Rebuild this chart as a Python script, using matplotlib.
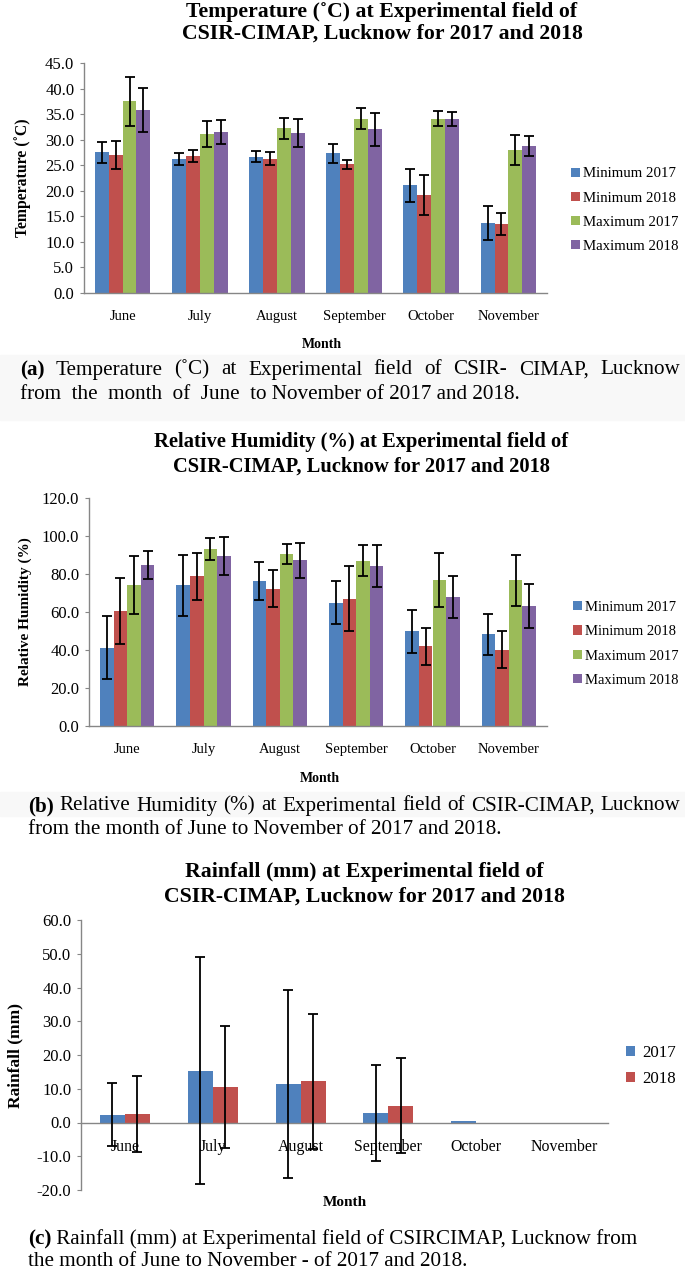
import matplotlib.pyplot as plt
import numpy as np
from matplotlib.patches import Rectangle

W, H = 685, 1277
SERIF = ["Liberation Serif", "DejaVu Serif"]
AXIS_GRAY = "#868686"

MONTHS = ["June", "July", "August", "September", "October", "November"]

# temperature (deg C), mean and sd
TEMP_LABELS = ["Minimum 2017", "Minimum 2018", "Maximum 2017", "Maximum 2018"]
TEMP_MIN_2017 = [27.5, 26.2, 26.7, 27.3, 21.1, 13.7]
TEMP_MIN_2018 = [27.0, 26.8, 26.3, 25.2, 19.1, 13.5]
TEMP_MAX_2017 = [37.5, 31.1, 32.2, 34.1, 34.1, 28.0]
TEMP_MAX_2018 = [35.8, 31.5, 31.3, 32.0, 34.1, 28.8]
TEMP_MIN_2017_SD = [2.1, 1.2, 1.1, 1.8, 3.2, 3.3]
TEMP_MIN_2018_SD = [2.7, 1.2, 1.2, 0.9, 3.9, 2.1]
TEMP_MAX_2017_SD = [4.8, 2.6, 2.0, 2.1, 1.5, 2.9]
TEMP_MAX_2018_SD = [4.3, 2.4, 2.7, 3.3, 1.4, 1.9]

# relative humidity (%)
RH_LABELS = ["Minimum 2017", "Minimum 2018", "Maximum 2017", "Maximum 2018"]
RH_MIN_2017 = [41.2, 74.1, 76.2, 64.8, 49.8, 48.4]
RH_MIN_2018 = [60.4, 78.7, 72.2, 67.1, 41.9, 40.1]
RH_MAX_2017 = [74.1, 93.4, 90.6, 86.9, 76.9, 76.6]
RH_MAX_2018 = [84.8, 89.5, 87.2, 84.3, 68.1, 63.2]
RH_MIN_2017_SD = [16.5, 16.0, 9.9, 11.3, 11.3, 10.8]
RH_MIN_2018_SD = [17.3, 12.4, 9.7, 17.0, 9.8, 9.7]
RH_MAX_2017_SD = [15.2, 5.8, 5.2, 8.2, 14.4, 13.6]
RH_MAX_2018_SD = [7.2, 10.2, 9.3, 11.0, 11.0, 11.4]

# rainfall (mm)
RAIN_LABELS = ["2017", "2018"]
RAIN_2017 = [2.3, 15.4, 11.5, 2.9, 0.3, 0.0]
RAIN_2018 = [2.5, 10.6, 12.2, 5.0, 0.0, 0.0]
RAIN_2017_SD = [9.3, 33.5, 27.8, 14.2, 0.0, 0.0]
RAIN_2018_SD = [11.3, 18.1, 20.0, 14.1, 0.0, 0.0]

COLORS = ["#4F81BD", "#C0504D", "#9BBB59", "#8064A2"]


def px_axes(fig, left, top, right, bottom):
    return fig.add_axes([left / W, 1 - bottom / H, (right - left) / W, (bottom - top) / H])


def fy(y):
    return 1 - y / H


def style_axes(ax, xsize=10.5, ysize=12):
    for side in ["top", "right"]:
        ax.spines[side].set_visible(False)
    for side in ["left", "bottom"]:
        ax.spines[side].set_color(AXIS_GRAY)
        ax.spines[side].set_linewidth(1.0)
    ax.tick_params(axis="y", length=3, width=0.8, color=AXIS_GRAY, pad=4, labelsize=ysize)
    ax.tick_params(axis="x", length=0, pad=12, labelsize=xsize)
    for lab in ax.get_xticklabels() + ax.get_yticklabels():
        lab.set_family(SERIF)


def grouped_bars(ax, series, errors, labels, width):
    x = np.arange(len(MONTHS))
    n = len(series)
    for i, (vals, errs, lab) in enumerate(zip(series, errors, labels)):
        pos = x + (i - (n - 1) / 2) * width
        ax.bar(pos, vals, width, color=COLORS[i], label=lab, zorder=2)
        errs = np.array(errs)
        mask = errs > 0
        ax.errorbar(pos[mask], np.array(vals)[mask], yerr=errs[mask], fmt="none",
                    ecolor="black", elinewidth=1.3, capsize=3.5, capthick=1.3, zorder=3)
    ax.set_xticks(x)
    ax.set_xticklabels(MONTHS)
    ax.set_xlim(-0.5, len(MONTHS) - 0.5)


def justified(fig, words, x0, x1, y, size, bold_first=True):
    renderer = fig.canvas.get_renderer()
    texts = []
    for i, w in enumerate(words):
        t = fig.text(0, fy(y), w, fontsize=size, family=SERIF, va="center",
                     fontweight="bold" if (i == 0 and bold_first) else "normal")
        texts.append(t)
    widths = [t.get_window_extent(renderer).width for t in texts]
    gap = (x1 - x0 - sum(widths)) / (len(words) - 1)
    x = x0
    for t, w in zip(texts, widths):
        t.set_x(x / W)
        x += w + gap


def caption(fig, label, text, x, y, size):
    renderer = fig.canvas.get_renderer()
    t = fig.text(x / W, fy(y), label, fontsize=size, family=SERIF, fontweight="bold", va="center")
    w = t.get_window_extent(renderer).width
    fig.text((x + w) / W, fy(y), text, fontsize=size, family=SERIF, va="center")


def title(fig, lines, cx, ys, size):
    for line, y in zip(lines, ys):
        fig.text(cx / W, fy(y), line, ha="center", va="center",
                 family=SERIF, fontweight="bold", fontsize=size)


fig = plt.figure(figsize=(W / 100, H / 100), dpi=100)
fig.canvas.draw()
CAP = 15.2

# (a) temperature
ax1 = px_axes(fig, 84, 63, 547, 293)
grouped_bars(ax1, [TEMP_MIN_2017, TEMP_MIN_2018, TEMP_MAX_2017, TEMP_MAX_2018],
             [TEMP_MIN_2017_SD, TEMP_MIN_2018_SD, TEMP_MAX_2017_SD, TEMP_MAX_2018_SD],
             TEMP_LABELS, 0.18)
ax1.set_ylim(0, 45)
ax1.set_yticks(np.arange(0, 45.1, 5))
ax1.set_yticklabels([f"{v:.1f}" for v in np.arange(0, 45.1, 5)])
style_axes(ax1)
ax1.set_ylabel("Temperature (˚C)", family=SERIF, fontweight="bold", fontsize=11.3)
ax1.yaxis.set_label_coords(-0.115, 0.5)
ax1.legend(loc="center left", bbox_to_anchor=(1.04, 0.36), frameon=False,
           prop={"family": SERIF, "size": 10.7}, handlelength=0.6, handleheight=0.6,
           handletextpad=0.2, labelspacing=0.75, borderaxespad=0)
title(fig, ["Temperature (˚C) at Experimental field of", "CSIR-CIMAP, Lucknow for 2017 and 2018"],
      382, [12, 34], 15.7)
fig.text(322 / W, fy(345), "Month", ha="center", va="center", family=SERIF, fontweight="bold", fontsize=10)

fig.patches.append(Rectangle((0, fy(420)), 1, (420 - 355) / H, transform=fig.transFigure,
                             color="#f8f8f8", zorder=0))
justified(fig, "(a) Temperature (˚C) at Experimental field of CSIR- CIMAP, Lucknow".split(),
          20, 680, 370, CAP)
fig.text(20 / W, fy(394), "from  the  month  of  June  to November of 2017 and 2018.",
         family=SERIF, fontsize=CAP, va="center")

# (b) relative humidity
ax2 = px_axes(fig, 89, 498, 547, 726)
grouped_bars(ax2, [RH_MIN_2017, RH_MIN_2018, RH_MAX_2017, RH_MAX_2018],
             [RH_MIN_2017_SD, RH_MIN_2018_SD, RH_MAX_2017_SD, RH_MAX_2018_SD],
             RH_LABELS, 0.178)
ax2.set_ylim(0, 120)
ax2.set_yticks(np.arange(0, 120.1, 20))
ax2.set_yticklabels([f"{v:.1f}" for v in np.arange(0, 120.1, 20)])
style_axes(ax2)
ax2.set_ylabel("Relative Humidity (%)", family=SERIF, fontweight="bold", fontsize=11)
ax2.yaxis.set_label_coords(-0.125, 0.5)
ax2.legend(loc="center left", bbox_to_anchor=(1.045, 0.36), frameon=False,
           prop={"family": SERIF, "size": 10.5}, handlelength=0.6, handleheight=0.6,
           handletextpad=0.2, labelspacing=0.78, borderaxespad=0)
title(fig, ["Relative Humidity (%) at Experimental field of", "CSIR-CIMAP, Lucknow for 2017 and 2018"],
      361, [442, 467], 14.8)
fig.text(320 / W, fy(778), "Month", ha="center", va="center", family=SERIF, fontweight="bold", fontsize=10)

fig.patches.append(Rectangle((0, fy(816)), 1, (816 - 792) / H, transform=fig.transFigure,
                             color="#f8f8f8", zorder=0))
justified(fig, "(b) Relative Humidity (%) at Experimental field of CSIR-CIMAP, Lucknow".split(),
          28, 680, 806, CAP)
fig.text(28 / W, fy(830), "from the month of June to November of 2017 and 2018.",
         family=SERIF, fontsize=CAP, va="center")

# (c) rainfall
ax3 = px_axes(fig, 81, 920, 608, 1190)
grouped_bars(ax3, [RAIN_2017, RAIN_2018], [RAIN_2017_SD, RAIN_2018_SD], RAIN_LABELS, 0.285)
ax3.set_ylim(-20, 60)
ax3.set_yticks(np.arange(-20, 60.1, 10))
ax3.set_yticklabels([f"{v:.1f}" for v in np.arange(-20, 60.1, 10)])
ax3.spines["bottom"].set_position(("data", 0))
style_axes(ax3, xsize=11.4, ysize=12)
ax3.set_ylabel("Rainfall (mm)", family=SERIF, fontweight="bold", fontsize=12.5)
ax3.yaxis.set_label_coords(-0.11, 0.5)
ax3.legend(loc="center left", bbox_to_anchor=(1.021, 0.46), frameon=False,
           prop={"family": SERIF, "size": 12.2}, handlelength=0.55, handleheight=0.55,
           handletextpad=0.4, labelspacing=0.6, borderaxespad=0)
title(fig, ["Rainfall (mm) at Experimental field of", "CSIR-CIMAP, Lucknow for 2017 and 2018"],
      364, [872, 897], 15.7)
fig.text(345 / W, fy(1202), "Month", ha="center", va="center", family=SERIF, fontweight="bold", fontsize=11)

caption(fig, "(c)", " Rainfall (mm) at Experimental field of CSIRCIMAP, Lucknow from", 28, 1239, CAP)
fig.text(28 / W, fy(1262), "the month of June to November - of 2017 and 2018.",
         family=SERIF, fontsize=CAP, va="center")

fig.savefig("out.png", dpi=100)
